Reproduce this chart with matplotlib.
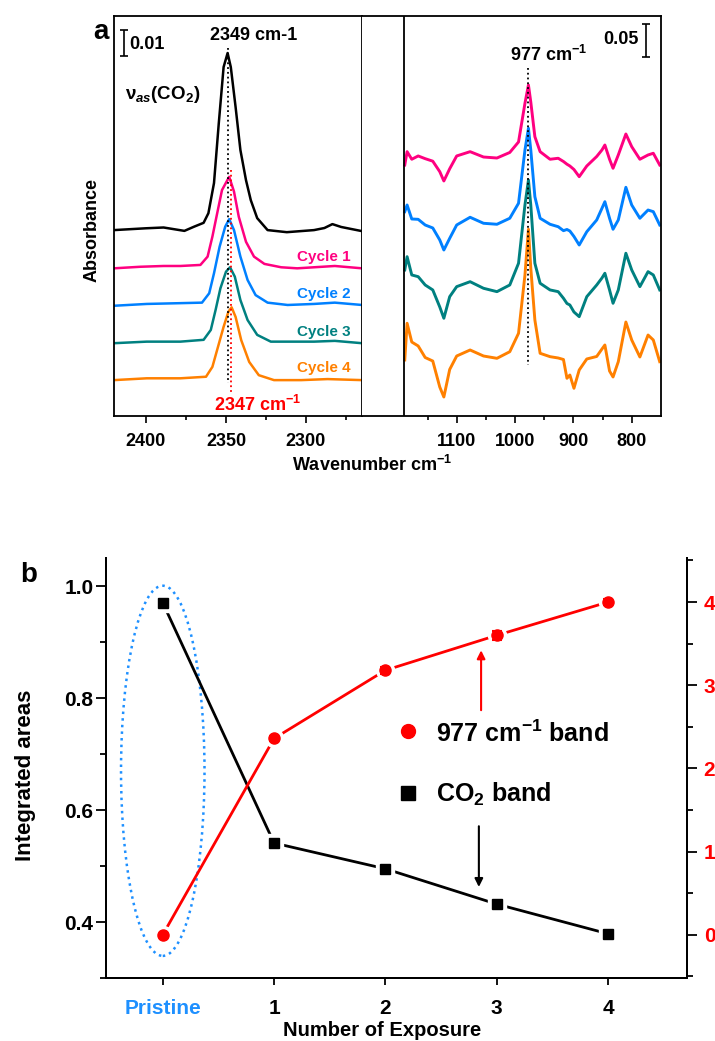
import matplotlib
matplotlib.use('Agg')
import matplotlib.pyplot as plt
from matplotlib.patches import Ellipse
from matplotlib.ticker import FixedLocator, FormatStrFormatter

plt.rcParams['font.family'] = ['Liberation Sans', 'DejaVu Sans']
plt.rcParams['font.weight'] = 'bold'
plt.rcParams['mathtext.fontset'] = 'custom'
plt.rcParams['mathtext.rm'] = 'Liberation Sans:bold'
plt.rcParams['mathtext.bf'] = 'Liberation Sans:bold'
plt.rcParams['mathtext.it'] = 'Liberation Sans:bold:italic'

# ---- panel a, CO2 region (wavenumber, absorbance above each baseline)
co2_wn_pristine = [2420, 2400, 2389, 2376, 2370, 2364, 2361, 2357.5, 2354.5, 2351.5, 2349, 2347, 2344, 2341,
                   2337.5, 2334.5, 2330.5, 2324, 2312, 2295, 2288.5, 2283.5, 2278, 2265]
co2_abs_pristine = [0.0, 0.0007, 0.0010, -0.0003, 0.0013, 0.0028, 0.0065, 0.0181, 0.0412, 0.0627, 0.0681, 0.0627,
                    0.0473, 0.0308, 0.0192, 0.0115, 0.0046, 0.0, -0.0008, 0.0, 0.0008, 0.0023, 0.0012, -0.0004]
co2_wn_cycle1 = [2420, 2403.5, 2389, 2378.5, 2366, 2361.5, 2358.5, 2355.5, 2352.5, 2348, 2345, 2342, 2337.5,
                 2332.5, 2326, 2315.5, 2305.5, 2295, 2282, 2265]
co2_abs_cycle1 = [0.0, 0.0006, 0.0009, 0.0009, 0.0013, 0.0045, 0.0122, 0.0212, 0.0301, 0.0352, 0.0295, 0.0198,
                  0.0102, 0.0045, 0.0017, 0.0004, 0.0, 0.0004, 0.0009, 0.0]
co2_wn_cycle2 = [2420, 2399.5, 2378.5, 2365, 2360.5, 2357.5, 2354, 2350.5, 2348, 2345, 2341, 2336.5, 2331.5,
                 2324, 2311.5, 2295, 2282, 2265]
co2_abs_cycle2 = [-0.0003, 0.0004, 0.0007, 0.0009, 0.0045, 0.0122, 0.0224, 0.0301, 0.0330, 0.0288, 0.0186,
                  0.0096, 0.0038, 0.0009, 0.0, 0.0004, 0.0009, 0.0]
co2_wn_cycle3 = [2420, 2399.5, 2378.5, 2364, 2359.5, 2356.5, 2353.5, 2350, 2347.5, 2344.5, 2341, 2336.5, 2330.5,
                 2322, 2311.5, 2295, 2282, 2265]
co2_abs_cycle3 = [-0.0001, 0.0005, 0.0005, 0.0012, 0.0050, 0.0127, 0.0210, 0.0274, 0.0291, 0.0255, 0.0165,
                  0.0088, 0.0031, 0.0005, 0.0005, 0.0005, 0.0008, -0.0001]
co2_wn_cycle4 = [2420, 2399.5, 2378.5, 2362.5, 2358.5, 2355, 2351.5, 2348.5, 2346.5, 2344, 2340.5, 2335.5,
                 2329.5, 2320, 2303, 2286.5, 2265]
co2_abs_cycle4 = [0.0, 0.0007, 0.0007, 0.0013, 0.0051, 0.0128, 0.0205, 0.0263, 0.0280, 0.0243, 0.0154, 0.0070,
                  0.0019, 0.0, 0.0, 0.0004, 0.0]
co2_offsets = [0.0715, 0.0568, 0.0427, 0.0281, 0.0138]

# ---- panel a, 977 cm-1 region
band_wn = [1189, 1185, 1177, 1166, 1154, 1141, 1129, 1122, 1112, 1100, 1077, 1054, 1031, 1009, 994, 983, 977,
           973, 966, 957, 940, 926, 917, 911, 906, 899, 890, 877, 860, 851, 846, 838, 832, 823, 810, 800, 786,
           772, 763, 752]
band_abs_cycle1 = [-0.0076, 0.0126, 0.0011, 0.0061, 0.0020, -0.0018, -0.0177, -0.0318, -0.0133, 0.0061, 0.0126,
                   0.0045, 0.0030, 0.0114, 0.0273, 0.0859, 0.1136, 0.0879, 0.0353, 0.0126, 0.0011, 0.0026,
                   -0.0023, -0.0064, -0.0091, -0.0144, -0.0253, -0.0091, 0.0053, 0.0152, 0.0227, 0.0011, -0.0126,
                   0.0076, 0.0394, 0.0202, 0.0011, 0.0076, 0.0102, -0.0076]
band_abs_cycle2 = [0.0202, 0.0303, 0.0091, 0.0086, 0.0, -0.0045, -0.0227, -0.0379, -0.0202, 0.0, 0.0117, 0.0026,
                   0.0011, 0.0102, 0.0329, 0.1136, 0.1465, 0.1136, 0.0429, 0.0102, 0.0011, -0.0026, -0.0086,
                   -0.0068, -0.0091, -0.0174, -0.0303, -0.0102, 0.0076, 0.0253, 0.0353, 0.0102, -0.0065, 0.0076,
                   0.0571, 0.0303, 0.0102, 0.0227, 0.0202, 0.0]
band_abs_cycle3 = [0.0258, 0.0459, 0.0182, 0.0156, 0.0030, -0.0045, -0.0303, -0.0474, -0.0147, 0.0005, 0.0080,
                   -0.0020, -0.0071, 0.0030, 0.0359, 0.1242, 0.1621, 0.1242, 0.0359, 0.0056, -0.0045, -0.0071,
                   -0.0171, -0.0250, -0.0273, -0.0379, -0.0450, -0.0147, 0.0030, 0.0136, 0.0208, -0.0045,
                   -0.0247, -0.0045, 0.0511, 0.0258, 0.0005, 0.0232, 0.0182, -0.0045]
band_abs_cycle4 = [-0.0045, 0.0511, 0.0227, 0.0167, -0.0008, -0.0061, -0.0455, -0.0606, -0.0189, 0.0015, 0.0106,
                   0.0015, -0.0020, 0.0080, 0.0359, 0.1242, 0.1935, 0.1348, 0.0561, 0.0056, 0.0005, -0.0015,
                   -0.0038, -0.0323, -0.0273, -0.0474, -0.0197, -0.0030, 0.0008, 0.0121, 0.0182, -0.0212,
                   -0.0303, -0.0071, 0.0530, 0.0258, 0.0, 0.0333, 0.0258, -0.0071]
band_offsets = [0.3879, 0.2894, 0.1955, 0.0894]

cycle_labels = ['Cycle 1', 'Cycle 2', 'Cycle 3', 'Cycle 4']
cycle_colors = ['#FF0080', '#0080FF', '#008080', '#FF8000']

# ---- panel b
exposure_labels = ['Pristine', '1', '2', '3', '4']
exposure = [0, 1, 2, 3, 4]
co2_area = [0.970, 0.541, 0.495, 0.432, 0.379]
co2_err = [0.005, 0.005, 0.004, 0.006, 0.003]
band_area = [0.0, 2.36, 3.18, 3.60, 4.00]
band_err = [0.0, 0.03, 0.04, 0.05, 0.04]

W, H = 715, 1041
fig = plt.figure(figsize=(W / 100, H / 100), dpi=100)

def fx(px):
    return px / W

def fy(py):
    return 1 - py / H

# ================= panel a =================
axL = fig.add_axes([fx(114), fy(416), 248 / W, 400 / H])
axR = fig.add_axes([fx(362), fy(416), 299 / W, 400 / H])

left_sets = [(co2_wn_pristine, co2_abs_pristine), (co2_wn_cycle1, co2_abs_cycle1),
             (co2_wn_cycle2, co2_abs_cycle2), (co2_wn_cycle3, co2_abs_cycle3),
             (co2_wn_cycle4, co2_abs_cycle4)]
left_colors = ['black'] + cycle_colors
for (wn, ab), off, c in zip(left_sets, co2_offsets, left_colors):
    axL.plot(wn, [a + off for a in ab], color=c, lw=1.8, solid_joinstyle='round')

for ab, off, c in zip([band_abs_cycle1, band_abs_cycle2, band_abs_cycle3, band_abs_cycle4], band_offsets, cycle_colors):
    axR.plot(band_wn, [a + off for a in ab], color=c, lw=2.1, solid_joinstyle='round')

axL.set_xlim(2420, 2265)
axL.set_ylim(0, 400 / 2600)
axR.set_xlim(1262.3, 749.8)
axR.set_ylim(0, 400 / 660)

for ax in (axL, axR):
    for s in ax.spines.values():
        s.set_linewidth(1.3)
    ax.tick_params(axis='y', left=False, right=False, labelleft=False)
    ax.tick_params(axis='x', which='major', direction='out', length=5, width=1.2, labelsize=13, pad=7)
    ax.tick_params(axis='x', which='minor', direction='out', length=3, width=1.2)
axR.spines['left'].set_visible(False)

axL.xaxis.set_major_locator(FixedLocator([2400, 2350, 2300]))
axL.xaxis.set_minor_locator(FixedLocator([2375, 2325, 2275]))
axR.xaxis.set_major_locator(FixedLocator([1100, 1000, 900, 800]))
axR.xaxis.set_minor_locator(FixedLocator([1150, 1050, 950, 850]))
axR.axvline(1190.3, color='black', lw=1.3)

# dotted peak markers
axL.plot([2349, 2349], [0.1415, 0.0127], color='black', ls=':', lw=1.3)
axL.plot([2347, 2347], [0.0946, 0.0088], color='red', ls=':', lw=1.3)
axR.plot([977, 977], [0.527, 0.077], color='black', ls=':', lw=1.3)

# scale bars
axL.errorbar([2414], [0.1435], yerr=[0.005], color='black', lw=1.2, capsize=3, capthick=1.2)
axR.errorbar([775.5], [0.569], yerr=[0.025], color='black', lw=1.2, capsize=3, capthick=1.2)

axL.text(2410.2, 0.1427, '0.01', fontsize=13, ha='left', va='center')
axL.text(2332.7, 0.1462, '2349 cm-1', fontsize=13, ha='center', va='center')
axL.text(2413.4, 0.1235, r'ν$_{as}$(CO$_2$)', fontsize=13.5, ha='left', va='center')
for lab, y, c in zip(cycle_labels, [0.0612, 0.0469, 0.0323, 0.0185], cycle_colors):
    axL.text(2272.2, y, lab, fontsize=11, color=c, ha='right', va='center')
axL.text(2330.2, 0.0042, r'2347 cm$^{-1}$', fontsize=13, color='red', ha='center', va='center')
axR.text(943, 0.547, r'977 cm$^{-1}$', fontsize=13, ha='center', va='center')
axR.text(787.5, 0.5697, '0.05', fontsize=13, ha='right', va='center')

fig.text(fx(101), fy(32), 'a', fontsize=20, ha='center', va='center')
fig.text(fx(92), fy(230), 'Absorbance', fontsize=13, rotation=90, ha='center', va='center')
fig.text(fx(372), fy(465), r'Wavenumber cm$^{-1}$', fontsize=13, ha='center', va='center')

# ================= panel b =================
axB = fig.add_axes([fx(106), fy(978), 581 / W, 420 / H])
axB2 = axB.twinx()

axB.add_patch(Ellipse((0, 0.67), 0.75, 0.661, fill=False, ls=':', lw=1.8, ec='#1E90FF'))

axB.plot(exposure, co2_area, color='black', lw=2.0, zorder=1)
axB.plot(exposure, co2_area, 's', color='white', ms=13, zorder=2)
axB.errorbar(exposure, co2_area, yerr=co2_err, fmt='s', color='black', ms=7.5, capsize=3.5, elinewidth=1.5,
             capthick=1.5, zorder=3)

axB2.plot(exposure, band_area, color='red', lw=2.0, zorder=1)
axB2.plot(exposure, band_area, 'o', color='white', ms=13, zorder=2)
axB2.errorbar(exposure, band_area, yerr=band_err, fmt='o', color='red', ms=8, capsize=3.5, elinewidth=1.5,
              capthick=1.5, zorder=3)

axB.set_xlim(-0.51, 4.71)
axB.set_ylim(0.3, 1.05)
axB2.set_ylim(-0.52, 4.53)

for ax in (axB, axB2):
    ax.spines['top'].set_visible(False)
    for s in ax.spines.values():
        s.set_linewidth(1.4)

axB.xaxis.set_major_locator(FixedLocator(exposure))
axB.set_xticklabels(exposure_labels)
axB.get_xticklabels()[0].set_color('#1E90FF')
axB.tick_params(axis='x', direction='out', length=5, width=1.3, labelsize=15, pad=10)

axB.yaxis.set_major_locator(FixedLocator([0.4, 0.6, 0.8, 1.0]))
axB.yaxis.set_minor_locator(FixedLocator([0.3, 0.5, 0.7, 0.9]))
axB.yaxis.set_major_formatter(FormatStrFormatter('%.1f'))
axB.tick_params(axis='y', which='major', direction='out', length=7, width=1.3, labelsize=15, pad=2)
axB.tick_params(axis='y', which='minor', direction='out', length=4, width=1.3)

axB2.yaxis.set_major_locator(FixedLocator([0, 1, 2, 3, 4]))
axB2.yaxis.set_minor_locator(FixedLocator([-0.5, 0.5, 1.5, 2.5, 3.5, 4.5]))
axB2.tick_params(axis='y', which='major', direction='out', length=7, width=1.3, labelsize=15, pad=5,
                 labelcolor='red')
axB2.tick_params(axis='y', which='minor', direction='out', length=4, width=1.3)

# arrows and legend
axB2.annotate('', xy=(2.86, 3.42), xytext=(2.86, 2.70),
              arrowprops=dict(arrowstyle='-|>', color='red', lw=1.5, mutation_scale=12, shrinkA=0, shrinkB=0))
axB.annotate('', xy=(2.84, 0.4625), xytext=(2.84, 0.571),
             arrowprops=dict(arrowstyle='-|>', color='black', lw=1.5, mutation_scale=12, shrinkA=0, shrinkB=0))

axB.plot([0.52], [0.588], 'o', color='red', ms=10, transform=axB.transAxes, clip_on=False)
axB.plot([0.52], [0.44], 's', color='black', ms=9.5, transform=axB.transAxes, clip_on=False)
axB.text(0.568, 0.5627, r'977 cm$^{-1}$ band', fontsize=18, transform=axB.transAxes, ha='left', va='baseline')
axB.text(0.568, 0.42, r'CO$_2$ band', fontsize=18, transform=axB.transAxes, ha='left', va='baseline')

fig.text(fx(29), fy(575), 'b', fontsize=20, ha='center', va='center')
fig.text(fx(26), fy(775), 'Integrated areas', fontsize=16, rotation=90, ha='center', va='center')
fig.text(fx(382), fy(1030), 'Number of Exposure', fontsize=14.5, ha='center', va='center')

fig.savefig('out.png', dpi=100)
